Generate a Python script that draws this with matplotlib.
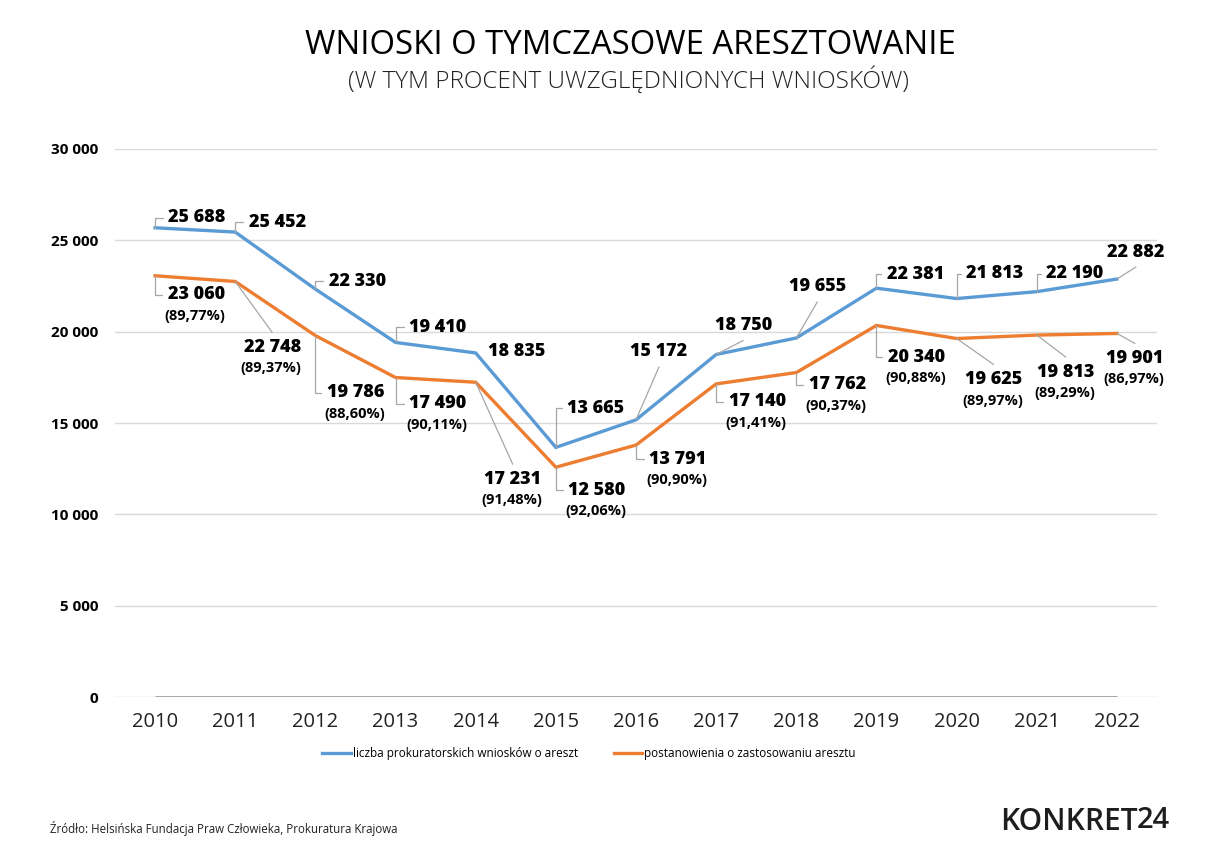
import numpy as np
import matplotlib
matplotlib.use("Agg")
import matplotlib.pyplot as plt
from matplotlib.ticker import FuncFormatter

# data
years = [2010, 2011, 2012, 2013, 2014, 2015, 2016, 2017, 2018, 2019, 2020, 2021, 2022]
wnioski = [25688, 25452, 22330, 19410, 18835, 13665, 15172, 18750, 19655, 22381, 21813, 22190, 22882]
postanowienia = [23060, 22748, 19786, 17490, 17231, 12580, 13791, 17140, 17762, 20340, 19625, 19813, 19901]
procent = ["89,77%", "89,37%", "88,60%", "90,11%", "91,48%", "92,06%", "90,90%",
           "91,41%", "90,37%", "90,88%", "89,97%", "89,29%", "86,97%"]
y_ticks = [0, 5000, 10000, 15000, 20000, 25000, 30000]

series_names = ["liczba prokuratorskich wniosków o areszt",
                "postanowienia o zastosowaniu aresztu"]

# label placement (offset in pixels from point, leader type)
blue_off = [(42, 10, 'b'), (42, 10, 'b'), (42, 8, 'b'), (42, 15, 'b'), (41, 1, None),
            (40, 39, 'b'), (23, 68, 'd'), (27, 29, 'd'), (21, 51, 'd'), (39, 14, 'b'),
            (38, 25, 'b'), (38, 18, 'b'), (19, 27, 'd')]
orange_off = [(41, -19, 'b'), (37, -66, 'd'), (40, -57, 'b'), (42, -26, 'b'), (37, -97, 'd'),
              (41, -23, 'b'), (42, -14, 'b'), (41, -18, 'b'), (41, -12, 'b'), (40, -32, 'b'),
              (37, -41, 'd'), (29, -37, 'd'), (18, -25, 'd')]

BLUE = '#5b9bd5'
ORANGE = '#ed7d31'
LEAD = '#a6a6a6'
FONT = ['Open Sans', 'DejaVu Sans']

plt.rcParams['font.family'] = FONT

fig = plt.figure(figsize=(12.18, 8.63), dpi=100)
ax = fig.add_axes([115/1218, 1-697/863, 1042/1218, 548/863])

ax.hlines(0, years[0], years[-1], color='#a0a0a0', lw=2, zorder=2)
l1, = ax.plot(years, wnioski, color=BLUE, lw=2.4, zorder=3, solid_joinstyle='miter')
l2, = ax.plot(years, postanowienia, color=ORANGE, lw=2.4, zorder=3, solid_joinstyle='miter')

ax.set_xlim(years[0]-0.5, years[-1]+0.5)
ax.set_ylim(0, 30000)
ax.set_yticks(y_ticks)
ax.yaxis.set_major_formatter(FuncFormatter(lambda v, p: f"{int(v):,}".replace(",", " ")))
ax.set_xticks(years)
ax.grid(axis='y', color='#d9d9d9', lw=1)
ax.set_axisbelow(True)
for s in ax.spines.values():
    s.set_visible(False)
ax.tick_params(axis='y', length=0, pad=12, labelsize=11)
ax.tick_params(axis='x', length=0, pad=11)
for t in ax.get_yticklabels():
    t.set_fontweight('bold')
for t in ax.get_xticklabels():
    t.set_fontsize(14.5)
    t.set_color('#222222')


def fmt(v):
    return f"{v:,}".replace(",", " ")


def leader(x, v, dx, dy, kind):
    if kind is None:
        return
    if kind == 'b':
        ax.annotate('', xy=(x, v), xytext=(dx-34, dy), textcoords='offset pixels',
                    arrowprops=dict(arrowstyle='-', color=LEAD, lw=0.9, shrinkA=0, shrinkB=0,
                                    connectionstyle='angle,angleA=0,angleB=90,rad=0'))
    else:
        ey = dy - np.sign(dy)*15
        ax.annotate('', xy=(x, v), xytext=(dx, ey), textcoords='offset pixels',
                    arrowprops=dict(arrowstyle='-', color=LEAD, lw=0.9, shrinkA=0, shrinkB=0))


for x, v, (dx, dy, kind) in zip(years, wnioski, blue_off):
    leader(x, v, dx, dy, kind)
    ax.annotate(fmt(v), xy=(x, v), xytext=(dx, dy), textcoords='offset pixels',
                ha='center', va='center', fontsize=13, fontweight='heavy', color='black')

for x, v, p, (dx, dy, kind) in zip(years, postanowienia, procent, orange_off):
    leader(x, v, dx, dy, kind)
    ax.annotate(fmt(v), xy=(x, v), xytext=(dx, dy), textcoords='offset pixels',
                ha='center', va='center', fontsize=13, fontweight='heavy', color='black')
    ax.annotate(f"({p})", xy=(x, v), xytext=(dx-1, dy-21), textcoords='offset pixels',
                ha='center', va='center', fontsize=10.5, fontweight='bold', color='black')

fig.text(630/1218, 1-45/863, "WNIOSKI O TYMCZASOWE ARESZTOWANIE", ha='center', va='center',
         fontsize=23.7, color='black')
fig.text(629/1218, 1-80/863, "(W TYM PROCENT UWZGLĘDNIONYCH WNIOSKÓW)", ha='center', va='center',
         fontsize=17.5, fontweight='light', color='#222222')

fig.legend([l1, l2], series_names, loc='center', bbox_to_anchor=(589/1218, 1-754/863),
           ncol=2, frameon=False, prop={'size': 8.5},
           handlelength=2.4, handletextpad=0.2, columnspacing=3.0)

fig.text(50/1218, 1-828/863, "Źródło: Helsińska Fundacja Praw Człowieka, Prokuratura Krajowa",
         ha='left', va='center', fontsize=8.3, color='#222222')

fig.text(1000/1218, 1-830/863, "KONKRET", ha='left', va='baseline', fontsize=21.5,
         fontweight='semibold', color='#1e1e1e')
fig.text(1137/1218, 1-828/863, "24", ha='left', va='baseline', fontsize=21,
         fontweight='semibold', color='#1e1e1e')

fig.savefig("out.png", dpi=100, facecolor='white')
